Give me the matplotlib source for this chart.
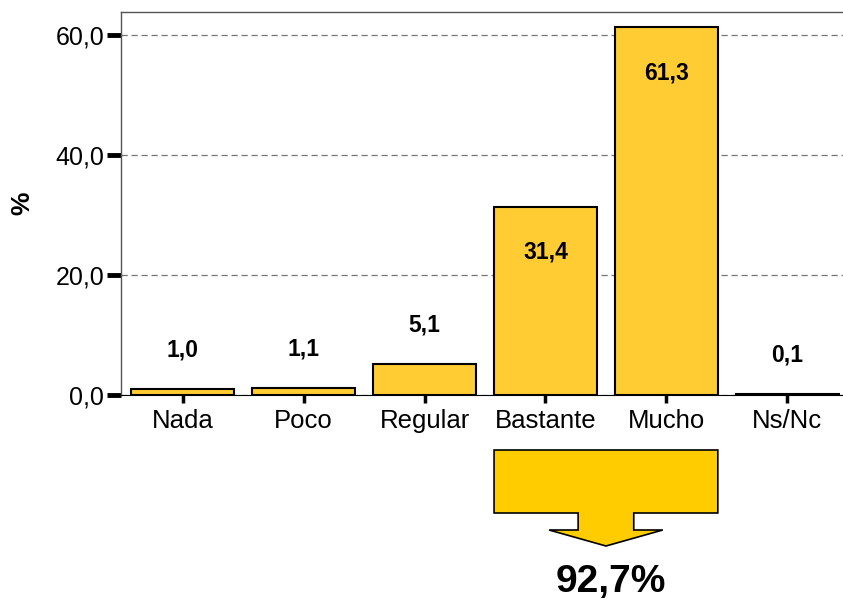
import matplotlib.pyplot as plt
import matplotlib.transforms as mtransforms
from matplotlib.patches import Polygon

plt.rcParams['font.family'] = ['Liberation Sans', 'DejaVu Sans']

categories = ['Nada', 'Poco', 'Regular', 'Bastante', 'Mucho', 'Ns/Nc']
values = [1.0, 1.1, 5.1, 31.4, 61.3, 0.1]
yticks = [0, 20, 40, 60]
group = ['Bastante', 'Mucho']


def fmt(v):
    return f'{v:.1f}'.replace('.', ',')


fig = plt.figure(figsize=(8.43, 6.05), dpi=100)
ax = fig.add_axes([0.1435, 0.347, 0.8565, 0.633])

x = list(range(len(categories)))
width = 0.85
ax.bar(x, values, width=width, color='#FFCC33', edgecolor='black', linewidth=1.5, zorder=3)

# value labels: above small bars, inside tall bars
for xi, v in zip(x, values):
    if v > 20:
        ax.text(xi, v - 7.6, fmt(v), ha='center', va='center', fontsize=16.5, fontweight='bold', zorder=4)
    else:
        ax.text(xi, v + 6.5, fmt(v), ha='center', va='center', fontsize=16.5, fontweight='bold', zorder=4)

ax.set_xlim(-0.51, 5.46)
ax.set_ylim(0, 63.8)
ax.set_yticks(yticks)
ax.set_yticklabels([fmt(t) for t in yticks], fontsize=18)
ax.set_xticks(x)
ax.set_xticklabels(categories, fontsize=18.5)
ax.tick_params(axis='y', length=10, width=3.5, pad=2)
ax.tick_params(axis='x', length=6, width=2.5, pad=4)
ax.set_ylabel('%', fontsize=19, fontweight='bold')
ax.yaxis.set_label_coords(-0.12, 0.5)

ax.grid(axis='y', linestyle=(0, (5, 3)), color='#777777', linewidth=0.9, zorder=0)
ax.spines['right'].set_visible(False)
ax.spines['top'].set_color('#555555')
ax.spines['top'].set_linewidth(1.0)
ax.spines['left'].set_color('#555555')
ax.spines['left'].set_linewidth(1.0)
ax.spines['bottom'].set_linewidth(0.8)

# arrow summarising Bastante + Mucho
i0 = categories.index(group[0])
i1 = categories.index(group[-1])
x0 = i0 - width / 2
x1 = i1 + width / 2
xm = (x0 + x1) / 2
half_stem = 0.23
half_head = 0.47
trans = mtransforms.blended_transform_factory(ax.transData, fig.transFigure)
y_top, y_box, y_stem, y_tip = 1 - 450 / 605, 1 - 513 / 605, 1 - 530 / 605, 1 - 546 / 605
pts = [(x0, y_top), (x1, y_top), (x1, y_box), (xm + half_stem, y_box), (xm + half_stem, y_stem),
       (xm + half_head, y_stem), (xm, y_tip), (xm - half_head, y_stem), (xm - half_stem, y_stem),
       (xm - half_stem, y_box), (x0, y_box)]
fig.add_artist(Polygon(pts, closed=True, facecolor='#FFCC00', edgecolor='black', linewidth=1.2,
                       transform=trans, clip_on=False))

total = sum(values[i0:i1 + 1])
fig.text(0.724, 1 - 582 / 605, fmt(total) + '%', ha='center', va='center', fontsize=28, fontweight='bold')

fig.savefig('out.png', dpi=100)
